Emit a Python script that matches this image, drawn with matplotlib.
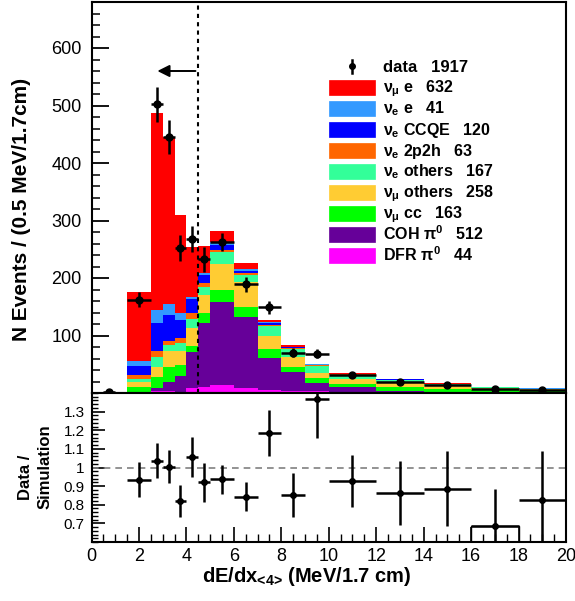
import matplotlib
matplotlib.use("Agg")
import matplotlib.pyplot as plt
import numpy as np
from matplotlib.patches import Rectangle
from matplotlib.ticker import MultipleLocator, FixedLocator

plt.rcParams['font.family'] = ['Liberation Sans', 'DejaVu Sans']
plt.rcParams['font.weight'] = 'bold'
plt.rcParams['mathtext.fontset'] = 'custom'
plt.rcParams['mathtext.rm'] = 'Liberation Sans:bold'
plt.rcParams['mathtext.it'] = 'Liberation Sans'
plt.rcParams['mathtext.bf'] = 'Liberation Sans:bold'

# bin edges (MeV/1.7 cm)
edges = [0, 1.5, 2.5, 3.0, 3.5, 4.0, 4.5, 5.0, 6, 7, 8, 9, 10, 12, 14, 16, 18, 20]

# stacked simulation, bottom to top
dfr      = [1.2, 1.0, 4.0, 4.0, 2.0, 8.5, 10, 14, 8.5, 4.5, 2.7, 3.0, 2.6, 1.5, 1.2, 1.0, 0.8]
coh      = [0.3, 1.5, 4.5, 16, 26.7, 62, 111.5, 145, 123.5, 56, 33, 15, 7.6, 2.3, 1.4, 1.6, 1.2]
numu_cc  = [0, 8, 20, 25, 20.3, 11.5, 17.5, 20.5, 17.5, 16, 10.3, 7.5, 5.8, 6.4, 4.1, 3.0, 2.2]
numu_oth = [0, 9, 17.5, 28, 23.2, 31, 32, 44.5, 43, 23, 16.4, 9, 8.7, 9.0, 5.3, 3.0, 2.0]
nue_oth  = [0, 5, 16.5, 11, 14.6, 15.5, 13.5, 21, 13.5, 17.5, 13.6, 12.5, 6.8, 3.0, 3.5, 1.5, 1.2]
nue_2p2h = [0, 6, 10, 7, 8.7, 10.5, 6, 3, 3, 1.5, 2, 1.5, 1.5, 1.2, 0.7, 0.3, 0.3]
nue_ccqe = [0, 17, 49, 45, 31.8, 24, 15.5, 10, 3, 2.5, 1.5, 1.0, 0.5, 0.2, 0.2, 0.1, 0.1]
nue_e    = [0, 7.5, 23, 19, 11.7, 4.5, 3, 4, 3, 2, 1, 0.5, 0.3, 0.1, 0.1, 0.1, 0.1]
numu_e   = [0, 121, 342, 291, 169.7, 87, 47.5, 19, 10.5, 4, 3.5, 1.0, 0.8, 0.2, 0.2, 0.2, 0.1]

# data points
data_x    = [0.75, 2.0, 2.75, 3.25, 3.75, 4.25, 4.75, 5.5, 6.5, 7.5, 8.5, 9.5, 11, 13, 15, 17, 19]
data_xerr = [0.25, 0.5, 0.25, 0.25, 0.25, 0.25, 0.25, 0.5, 0.5, 0.5, 0.5, 0.5, 1, 1, 1, 1, 1]
data_y    = [2, 162, 502, 446, 252, 268, 233, 262, 189, 149, 70, 68, 30.5, 19, 13.7, 6.7, 5.6]
data_yerr = [2, 12.8, 31, 29.6, 22.3, 22, 21.7, 15.4, 13, 11.6, 7.8, 7.8, 4, 3, 2.5, 2, 2]

# data / simulation
ratio_x    = data_x[1:]
ratio_xerr = data_xerr[1:]
ratio_y    = [0.935, 1.036, 1.005, 0.82, 1.058, 0.92, 0.936, 0.844, 1.185, 0.85, 1.366,
              0.927, 0.864, 0.886, 0.686, 0.826]
ratio_err  = [0.093, 0.093, 0.09, 0.086, 0.107, 0.106, 0.08, 0.08, 0.125, 0.118, 0.21,
              0.14, 0.172, 0.2, 0.2, 0.26]

labels = [r'$\nu_{\mu}$ e   632', r'$\nu_{\mathbf{e}}$ e   41', r'$\nu_{\mathbf{e}}$ CCQE   120',
          r'$\nu_{\mathbf{e}}$ 2p2h   63', r'$\nu_{\mathbf{e}}$ others   167',
          r'$\nu_{\mu}$ others   258', r'$\nu_{\mu}$ cc   163', r'COH $\pi^{\mathbf{0}}$   512',
          r'DFR $\pi^{\mathbf{0}}$   44']
data_label = 'data   1917'

components = [dfr, coh, numu_cc, numu_oth, nue_oth, nue_2p2h, nue_ccqe, nue_e, numu_e]
colors = ['#ff00ff', '#660099', '#00ff00', '#ffcc33', '#33ff99', '#ff6600', '#0000ff', '#3399ff', '#ff0000']

W, H = 575, 601
fig = plt.figure(figsize=(W / 100, H / 100), dpi=100)

L, R = 91.5, 566
ax = fig.add_axes([L / W, 1 - 393 / H, (R - L) / W, 391 / H])
ax2 = fig.add_axes([L / W, 1 - 542 / H, (R - L) / W, 149 / H])

# stacked histogram
base = np.zeros(len(edges) - 1)
for comp, col in zip(components, colors):
    top = base + np.array(comp)
    ax.stairs(top, edges, baseline=base, fill=True, color=col, lw=0)
    base = top

ax.errorbar(data_x, data_y, xerr=data_xerr, yerr=data_yerr, fmt='o', color='black',
            ms=5, elinewidth=1.8, capsize=0, zorder=5)

ax.axvline(4.5, color='black', ls=(0, (2, 2)), lw=1.5, zorder=4)
ax.annotate('', xy=(2.66, 560), xytext=(4.5, 560),
            arrowprops=dict(arrowstyle='-|>', color='black', lw=1.4, mutation_scale=18))

ax.set_xlim(0, 20)
ax.set_ylim(0, 680)
ax.yaxis.set_major_locator(FixedLocator([100, 200, 300, 400, 500, 600]))
ax.yaxis.set_minor_locator(MultipleLocator(20))
ax.tick_params(axis='y', which='major', direction='in', length=12, width=1.3, labelsize=13, pad=7)
ax.tick_params(axis='y', which='minor', direction='in', length=6, width=1.1)
ax.tick_params(axis='x', which='both', bottom=False, labelbottom=False)
for s in ax.spines.values():
    s.set_linewidth(1.5)

# legend drawn by hand
ah = 391.0
aw = R - L
def afx(px):
    return (px - L) / aw
def afy(py):
    return (393 - py) / ah

y0 = 66
dy = 21
ax.plot([afx(351.7)], [afy(y0)], 'o', color='black', ms=4, transform=ax.transAxes)
ax.plot([afx(351.7)] * 2, [afy(y0 - 6.5), afy(y0 + 6.5)], color='black', lw=1.8,
        transform=ax.transAxes)
ax.text(afx(383), afy(y0 + 5.7), data_label, transform=ax.transAxes, fontsize=12,
        fontweight='bold', va='baseline')
for i, (lab, col) in enumerate(zip(labels, colors[::-1])):
    yc = y0 + dy * (i + 1)
    ax.add_patch(Rectangle((afx(328.5), afy(yc + 7.5)), 46.5 / aw, 15 / ah,
                           transform=ax.transAxes, facecolor=col, edgecolor=col, lw=0.5))
    ax.text(afx(383), afy(yc + 5.7), lab, transform=ax.transAxes, fontsize=11.5,
            fontweight='bold', va='baseline')

# ratio panel
ax2.errorbar(ratio_x, ratio_y, xerr=ratio_xerr, yerr=ratio_err, fmt='o', color='black',
             ms=4, elinewidth=1.8, capsize=0, zorder=5)
ax2.stairs([ratio_y[14]], [16, 18], baseline=0.6, color='black', lw=1)
ax2.axhline(1.0, color='#808080', ls=(0, (4, 3)), lw=1.2)
ax2.set_xlim(0, 20)
ax2.set_ylim(0.6, 1.4)
ax2.yaxis.set_major_locator(FixedLocator([0.7, 0.8, 0.9, 1.0, 1.1, 1.2, 1.3]))
ax2.yaxis.set_major_formatter(plt.FuncFormatter(lambda v, p: ('%g' % v)))
ax2.yaxis.set_minor_locator(MultipleLocator(0.02))
ax2.xaxis.set_major_locator(MultipleLocator(2))
ax2.xaxis.set_minor_locator(MultipleLocator(0.5))
ax2.tick_params(axis='y', which='major', direction='in', length=9, width=1.2, labelsize=11, pad=5)
ax2.tick_params(axis='y', which='minor', direction='in', length=4.5, width=1)
ax2.tick_params(axis='x', which='major', direction='in', length=11, width=1.2, labelsize=13, pad=4)
ax2.tick_params(axis='x', which='minor', direction='in', length=5.5, width=1)
for s in ax2.spines.values():
    s.set_linewidth(1.5)
for t in ax.get_yticklabels() + ax2.get_yticklabels() + ax2.get_xticklabels():
    t.set_fontweight('normal')

# axis titles
fig.text(22 / W, 1 - 209 / H, 'N Events / (0.5 MeV/1.7cm)', rotation=90, ha='center',
         va='center', fontsize=15, fontweight='bold')
fig.text(26 / W, 1 - 477 / H, 'Data /', rotation=90, ha='center', va='center',
         fontsize=12, fontweight='bold')
fig.text(45 / W, 1 - 467 / H, 'Simulation', rotation=90, ha='center', va='center',
         fontsize=12, fontweight='bold')
fig.text(307 / W, 1 - 582 / H, r'dE/dx$_{\text{<4>}}$ (MeV/1.7 cm)', ha='center',
         va='baseline', fontsize=14.5, fontweight='bold')

fig.savefig('out.png', dpi=100)
